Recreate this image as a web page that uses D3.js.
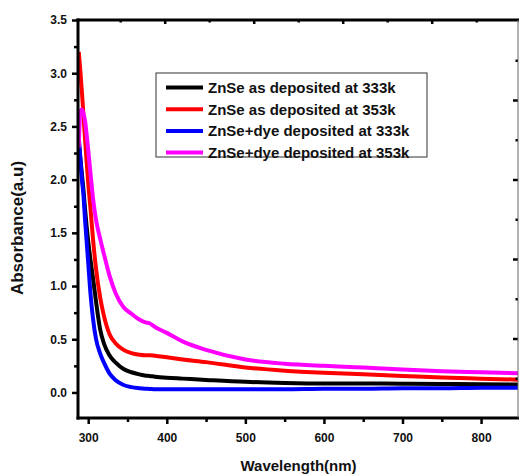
<!DOCTYPE html>
<html>
<head>
<meta charset="utf-8">
<style>
    body { margin: 0; background: #fff; }
    svg { display: block; }
    text { font-family: "Liberation Sans", Arial, sans-serif; font-weight: bold; fill: #111; }
    .axis .domain { display: none; }
    .axis .tick line { stroke: #000; stroke-width: 2.5px; }
    .axis .tick text { font-size: 12px; }
</style>
</head>
<body>
<svg width="519" height="475"></svg>
<script src="https://d3js.org/d3.v7.min.js"></script>
<script>
    // data
    let wavelength = [288, 290, 292, 294, 296, 298, 300, 303, 306, 310, 315, 320, 327, 335, 345, 355,
        365, 372, 378, 385, 400, 420, 450, 500, 550, 600, 650, 700, 750, 800, 850];
    let znse333 = [2.35, 2.2, 2.05, 1.9, 1.72, 1.56, 1.42, 1.24, 1.08, 0.85, 0.6, 0.46, 0.35, 0.28, 0.22, 0.19,
        0.17, 0.16, 0.155, 0.148, 0.138, 0.13, 0.118, 0.10, 0.09, 0.085, 0.085, 0.082, 0.08, 0.078, 0.075];
    let znse353 = [3.2, 3.02, 2.82, 2.6, 2.38, 2.17, 1.97, 1.72, 1.45, 1.16, 0.9, 0.72, 0.55, 0.46, 0.4, 0.37,
        0.355, 0.35, 0.35, 0.345, 0.33, 0.31, 0.285, 0.235, 0.205, 0.185, 0.17, 0.155, 0.14, 0.13, 0.12];
    let dye333 = [2.4, 2.2, 2.0, 1.85, 1.62, 1.42, 1.22, 0.92, 0.7, 0.5, 0.37, 0.28, 0.18, 0.115, 0.07, 0.05,
        0.04, 0.035, 0.033, 0.03, 0.03, 0.03, 0.03, 0.03, 0.03, 0.035, 0.035, 0.04, 0.04, 0.045, 0.045];
    let dye353 = [2.3, 2.64, 2.66, 2.62, 2.55, 2.42, 2.28, 2.05, 1.83, 1.62, 1.45, 1.3, 1.1, 0.93, 0.8, 0.74,
        0.685, 0.66, 0.65, 0.615, 0.56, 0.48, 0.40, 0.31, 0.27, 0.25, 0.235, 0.215, 0.2, 0.19, 0.18];

    let seriesNames = ["ZnSe as deposited at 333k", "ZnSe as deposited at 353k",
        "ZnSe+dye deposited at 333k", "ZnSe+dye deposited at 353k"];
    let seriesValues = [znse333, znse353, dye333, dye353];
    let seriesColors = ["#000000", "#ff0000", "#0000ff", "#ff00ff"];

    let xTicks = [300, 400, 500, 600, 700, 800];
    let xMinor = [350, 450, 550, 650, 750];
    let yTicks = [0, 0.5, 1.0, 1.5, 2.0, 2.5, 3.0, 3.5];
    let yMinor = [0.25, 0.75, 1.25, 1.75, 2.25, 2.75, 3.25];

    let margin = { top: 20, right: 1, bottom: 57, left: 78 };
    let width = 519, height = 475;

    let svg = d3.select("svg");

    let x = d3.scaleLinear()
        .domain([287, 847])
        .range([margin.left, width - margin.right]);

    let y = d3.scaleLinear()
        .domain([-0.24, 3.5])
        .range([height - margin.bottom, margin.top]);

    // frame scales for the top / right ticks (they don't line up with the data axes)
    let topX = d3.scaleLinear().domain([0, 1]).range([342.7, 431.7]);
    let rightY = d3.scaleLinear().domain([0, 1]).range([100, 179.5]);

    svg.append("clipPath").attr("id", "plot-clip")
        .append("rect")
        .attr("x", margin.left).attr("y", margin.top)
        .attr("width", width - margin.right - margin.left)
        .attr("height", height - margin.bottom - margin.top);

    // lines
    let line = d3.line()
        .x((d, i) => x(wavelength[i]))
        .y(d => y(d))
        .curve(d3.curveMonotoneX);

    svg.append("g")
        .attr("clip-path", "url(#plot-clip)")
        .selectAll("path")
        .data(seriesValues)
        .join("path")
        .attr("d", d => line(d))
        .style("fill", "none")
        .style("stroke", (d, i) => seriesColors[i])
        .style("stroke-width", "4px")
        .style("stroke-linejoin", "round");

    // bottom axis
    svg.append("g")
        .attr("class", "x axis")
        .attr("transform", `translate(0,${y(-0.24)})`)
        .call(d3.axisBottom(x).tickValues(xTicks).tickSize(6).tickPadding(9));
    svg.append("g")
        .attr("class", "x axis")
        .attr("transform", `translate(0,${y(-0.24)})`)
        .call(d3.axisBottom(x).tickValues(xMinor).tickSize(4).tickFormat(""));

    // left axis
    svg.append("g")
        .attr("class", "y axis")
        .attr("transform", `translate(${margin.left},0)`)
        .call(d3.axisLeft(y).tickValues(yTicks).tickSize(6).tickPadding(5).tickFormat(d3.format(".1f")));
    svg.append("g")
        .attr("class", "y axis")
        .attr("transform", `translate(${margin.left},0)`)
        .call(d3.axisLeft(y).tickValues(yMinor).tickSize(4).tickFormat(""));

    // top and right frame ticks
    svg.append("g")
        .attr("class", "axis")
        .attr("transform", `translate(0,${margin.top})`)
        .call(d3.axisBottom(topX).tickValues([-2, -1, 0, 1]).tickSize(4).tickFormat(""));
    svg.append("g")
        .attr("class", "axis")
        .attr("transform", `translate(0,${margin.top})`)
        .call(d3.axisBottom(topX).tickValues([-2.5, -1.5, -0.5, 0.5, 1.5]).tickSize(2.5).tickFormat(""));
    svg.append("g")
        .attr("class", "axis")
        .attr("transform", `translate(${width - margin.right},0)`)
        .call(d3.axisLeft(rightY).tickValues([0, 1, 2, 3]).tickSize(5).tickFormat(""));
    svg.append("g")
        .attr("class", "axis")
        .attr("transform", `translate(${width - margin.right},0)`)
        .call(d3.axisLeft(rightY).tickValues([-0.5, 0.5, 1.5, 2.5, 3.5]).tickSize(2.5).tickFormat(""));

    // frame lines
    svg.append("line")
        .attr("x1", margin.left).attr("x2", margin.left)
        .attr("y1", y(3.5) - 1.5).attr("y2", y(-0.24) + 1.5)
        .style("stroke", "#000").style("stroke-width", "3px");
    svg.append("line")
        .attr("x1", margin.left - 1.5).attr("x2", width)
        .attr("y1", y(-0.24)).attr("y2", y(-0.24))
        .style("stroke", "#000").style("stroke-width", "3px");
    svg.append("line")
        .attr("x1", margin.left - 1.5).attr("x2", width)
        .attr("y1", y(3.5)).attr("y2", y(3.5))
        .style("stroke", "#000").style("stroke-width", "3px");
    svg.append("line")
        .attr("x1", width - margin.right).attr("x2", width - margin.right)
        .attr("y1", y(3.5)).attr("y2", y(-0.24))
        .style("stroke", "#666").style("stroke-width", "1px");

    // axis titles
    svg.append("text")
        .attr("x", (margin.left + width) / 2)
        .attr("y", 471)
        .style("text-anchor", "middle")
        .style("font-size", "15px")
        .text("Wavelength(nm)");

    svg.append("text")
        .attr("transform", "translate(23,228) rotate(-90)")
        .style("text-anchor", "middle")
        .style("font-size", "17px")
        .text("Absorbance(a.u)");

    // legend
    let legend = svg.append("g").attr("transform", "translate(156,73)");
    legend.append("rect")
        .attr("width", 271).attr("height", 84)
        .style("fill", "#fff").style("stroke", "#333").style("stroke-width", "1px");
    let rows = legend.selectAll(".row")
        .data(seriesNames)
        .join("g")
        .attr("class", "row")
        .attr("transform", (d, i) => `translate(0,${14.5 + i * 21.7})`);
    rows.append("line")
        .attr("x1", 10).attr("x2", 47)
        .style("stroke", (d, i) => seriesColors[i])
        .style("stroke-width", "4px");
    rows.append("text")
        .attr("x", 52)
        .attr("dy", "0.36em")
        .style("font-size", "15px")
        .text(d => d);
</script>
</body>
</html>
